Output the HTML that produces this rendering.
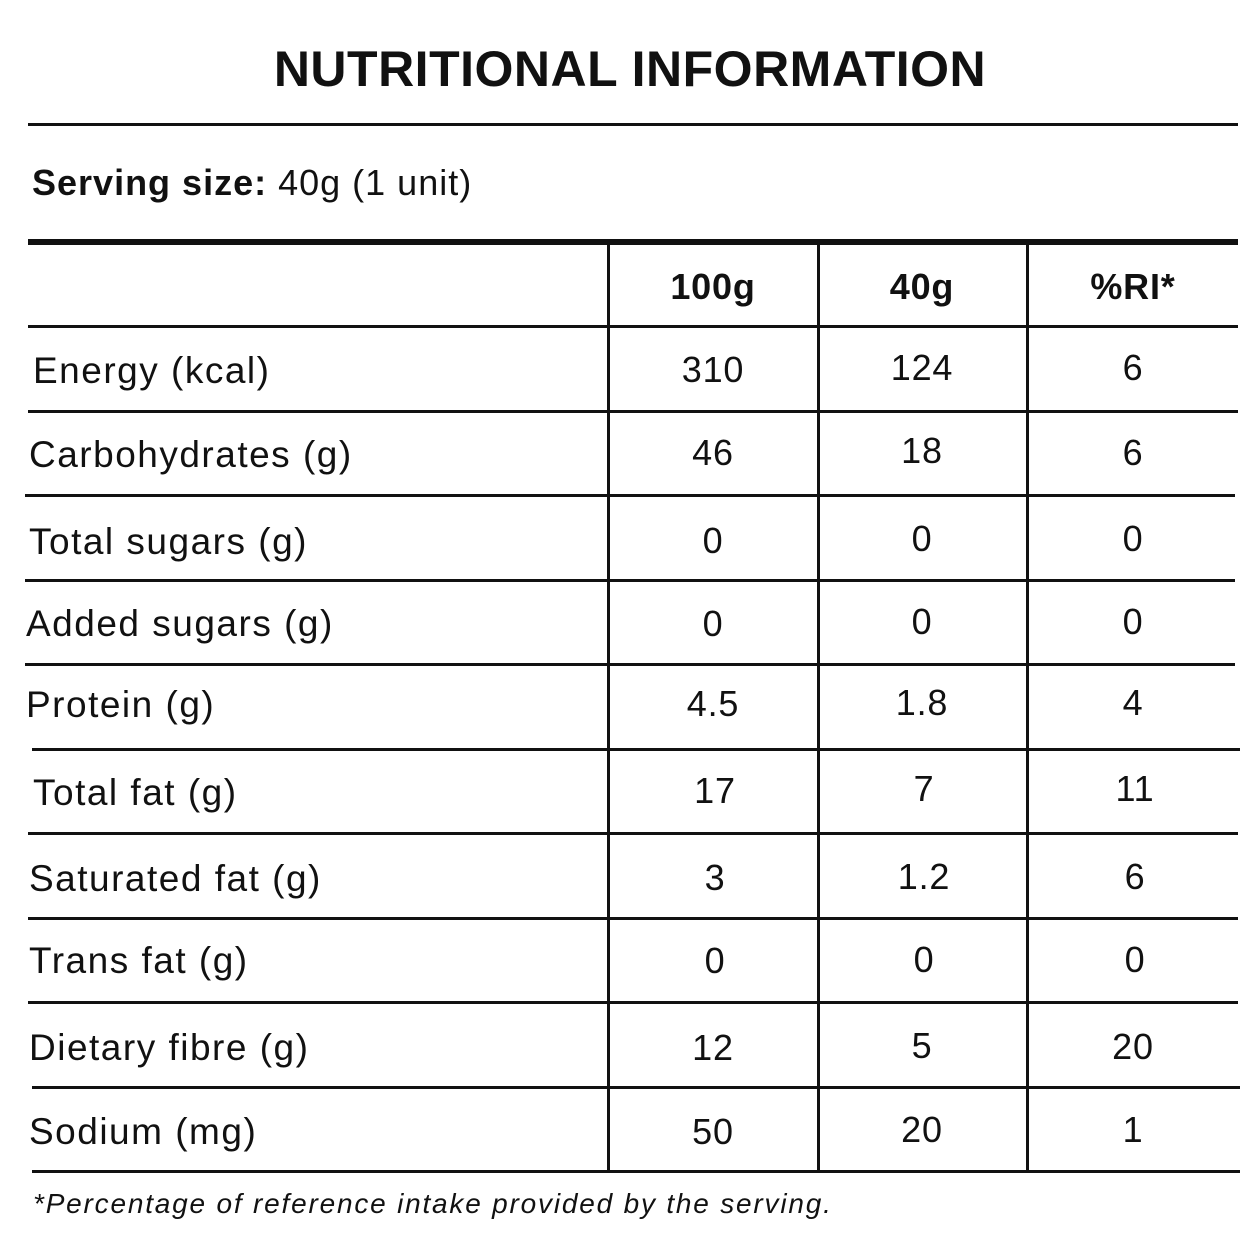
<!DOCTYPE html>
<html><head><meta charset="utf-8"><style>
body{margin:0;width:1260px;height:1260px;background:#fff;position:relative;overflow:hidden;font-family:"Liberation Sans","DejaVu Sans",sans-serif;color:#111}
.t{position:absolute;white-space:nowrap;line-height:1}
.h{position:absolute;background:#111}
.c{position:absolute;width:200px;text-align:center;font-size:36px;line-height:1;letter-spacing:0.8px}
.l{position:absolute;font-size:37px;line-height:1;white-space:nowrap;letter-spacing:1.5px}
</style></head><body>
<div class="t" style="left:0;width:1260px;text-align:center;top:44px;font-size:50px;font-weight:bold;letter-spacing:0.5px">NUTRITIONAL INFORMATION</div>
<div class="h" style="left:28px;top:123px;width:1210px;height:3px"></div>
<div class="t" style="left:32px;top:165px;font-size:36px;letter-spacing:1px"><b>Serving size:</b> 40g (1 unit)</div>
<div class="h" style="left:28px;top:239px;width:1210px;height:6px"></div>
<div class="h" style="left:607px;top:243px;width:3px;height:930px"></div>
<div class="h" style="left:817px;top:243px;width:3px;height:930px"></div>
<div class="h" style="left:1026px;top:243px;width:3px;height:930px"></div>
<div class="c" style="left:613px;top:269px;font-weight:bold">100g</div>
<div class="c" style="left:822px;top:269px;font-weight:bold">40g</div>
<div class="c" style="left:1033px;top:269px;font-weight:bold">%RI*</div>
<div class="h" style="left:28px;top:325px;width:1210px;height:3px"></div>
<div class="h" style="left:28px;top:410px;width:1210px;height:3px"></div>
<div class="h" style="left:25px;top:494px;width:1210px;height:3px"></div>
<div class="h" style="left:25px;top:579px;width:1210px;height:3px"></div>
<div class="h" style="left:25px;top:663px;width:1210px;height:3px"></div>
<div class="h" style="left:32px;top:748px;width:1208px;height:3px"></div>
<div class="h" style="left:28px;top:832px;width:1210px;height:3px"></div>
<div class="h" style="left:28px;top:917px;width:1210px;height:3px"></div>
<div class="h" style="left:28px;top:1001px;width:1210px;height:3px"></div>
<div class="h" style="left:32px;top:1086px;width:1208px;height:3px"></div>
<div class="h" style="left:32px;top:1170px;width:1208px;height:3px"></div>

<div class="l" style="left:33px;top:352px">Energy (kcal)</div>
<div class="c" style="left:613px;top:352px">310</div><div class="c" style="left:822px;top:350px">124</div><div class="c" style="left:1033px;top:350px">6</div>
<div class="l" style="left:29px;top:436px">Carbohydrates (g)</div>
<div class="c" style="left:613px;top:435px">46</div><div class="c" style="left:822px;top:433px">18</div><div class="c" style="left:1033px;top:435px">6</div>
<div class="l" style="left:29px;top:523px">Total sugars (g)</div>
<div class="c" style="left:613px;top:523px">0</div><div class="c" style="left:822px;top:521px">0</div><div class="c" style="left:1033px;top:521px">0</div>
<div class="l" style="left:26px;top:605px">Added sugars (g)</div>
<div class="c" style="left:613px;top:606px">0</div><div class="c" style="left:822px;top:604px">0</div><div class="c" style="left:1033px;top:604px">0</div>
<div class="l" style="left:26px;top:686px">Protein (g)</div>
<div class="c" style="left:613px;top:686px">4.5</div><div class="c" style="left:822px;top:685px">1.8</div><div class="c" style="left:1033px;top:685px">4</div>
<div class="l" style="left:33px;top:774px">Total fat (g)</div>
<div class="c" style="left:615px;top:773px">17</div><div class="c" style="left:824px;top:771px">7</div><div class="c" style="left:1035px;top:771px">11</div>
<div class="l" style="left:29px;top:860px">Saturated fat (g)</div>
<div class="c" style="left:615px;top:860px">3</div><div class="c" style="left:824px;top:859px">1.2</div><div class="c" style="left:1035px;top:859px">6</div>
<div class="l" style="left:29px;top:942px">Trans fat (g)</div>
<div class="c" style="left:615px;top:943px">0</div><div class="c" style="left:824px;top:942px">0</div><div class="c" style="left:1035px;top:942px">0</div>
<div class="l" style="left:29px;top:1029px">Dietary fibre (g)</div>
<div class="c" style="left:613px;top:1030px">12</div><div class="c" style="left:822px;top:1028px">5</div><div class="c" style="left:1033px;top:1029px">20</div>
<div class="l" style="left:29px;top:1113px">Sodium (mg)</div>
<div class="c" style="left:613px;top:1114px">50</div><div class="c" style="left:822px;top:1112px">20</div><div class="c" style="left:1033px;top:1112px">1</div>
<div class="t" style="left:33px;top:1190px;font-size:28px;font-style:italic;letter-spacing:1.8px">*Percentage of reference intake provided by the serving.</div>
</body></html>
